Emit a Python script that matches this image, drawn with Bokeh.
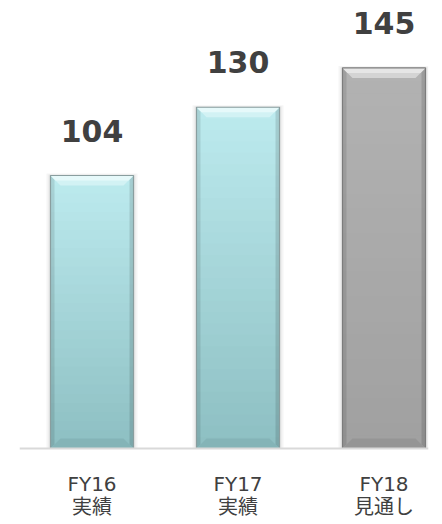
import numpy as np
from bokeh.plotting import figure
from bokeh.models import Range1d, Span
from bokeh.embed import file_html
from bokeh.resources import INLINE
from bokeh.core.properties import value as pv

# ---- data ----
categories = ["FY16", "FY17", "FY18"]
sub_labels = ["実績", "実績", "見通し"]
values = [104, 130, 145]
is_forecast = [False, False, True]

# ---- layout constants (pixels) ----
PX_X = 146.0          # pixels per category
PX_Y = 2.625          # pixels per unit
FRAME_W = 409
PLOT_H = 448          # height above baseline
BOTTOM_H = 76         # room for category labels
FIRST_CENTER = 72.5   # first category centre from frame left
BAR_PX = 83

x_start = -FIRST_CENTER / PX_X
x_end = x_start + FRAME_W / PX_X
y_start = -BOTTOM_H / PX_Y
y_end = PLOT_H / PX_Y
W = BAR_PX / PX_X
BX = 10 / PX_X
BY = 10 / PX_Y

xs = list(range(len(categories)))

p = figure(frame_width=FRAME_W, frame_height=PLOT_H + BOTTOM_H,
           x_range=Range1d(x_start, x_end), y_range=Range1d(y_start, y_end),
           output_backend="svg", toolbar_location=None,
           x_axis_location=None, y_axis_location=None,
           min_border_left=19, min_border_right=14, min_border_top=0, min_border_bottom=0,
           background_fill_color="white", border_fill_color="white",
           outline_line_color=None)
p.grid.visible = False


def rgb(c):
    return "#%02x%02x%02x" % tuple(int(round(v)) for v in c)


CY_TOP, CY_BOT = np.array([188, 234, 238]), np.array([140, 190, 193])
GR_TOP, GR_BOT = np.array([178, 178, 178]), np.array([160, 160, 160])
tops_c = [GR_TOP if f else CY_TOP for f in is_forecast]
bots_c = [GR_BOT if f else CY_BOT for f in is_forecast]

# soft shadow
p.vbar(x=xs, top=[v + 2 / PX_Y for v in values], bottom=0, width=W + 8 / PX_X,
       fill_color="#000000", fill_alpha=0.04, line_color=None)
p.vbar(x=xs, top=[v + 1 / PX_Y for v in values], bottom=0, width=W + 4 / PX_X,
       fill_color="#000000", fill_alpha=0.06, line_color=None)

# vertical gradient body
N = 30
for k in range(N, 0, -1):
    f = k / N
    cols = [rgb(b + (t - b) * f) for t, b in zip(tops_c, bots_c)]
    p.vbar(x=xs, top=[v * f for v in values], bottom=0, width=W,
           fill_color=cols, line_color=None)

# side facets
lx, ly, rx, ry = [], [], [], []
for x, v in zip(xs, values):
    l, r = x - W / 2, x + W / 2
    lx.append([l, l + BX * 0.4, l + BX * 0.4, l]); ly.append([0, BY * 0.4, v - BY * 0.4, v])
    rx.append([r, r - BX * 0.4, r - BX * 0.4, r]); ry.append([0, BY * 0.4, v - BY * 0.4, v])
p.patches(lx, ly, fill_color="#000000", fill_alpha=0.10, line_color=None)
p.patches(rx, ry, fill_color="#000000", fill_alpha=0.12, line_color=None)

# top facet
tx, ty, tx2, ty2 = [], [], [], []
for x, v in zip(xs, values):
    l, r = x - W / 2, x + W / 2
    tx.append([l, r, r - BX, l + BX]); ty.append([v, v, v - BY, v - BY])
    tx2.append([l, r, r - BX * 0.5, l + BX * 0.5]); ty2.append([v, v, v - BY * 0.5, v - BY * 0.5])
top_face = ["#d4d4d4" if f else "#d2f2f4" for f in is_forecast]
top_face2 = ["#e6e6e6" if f else "#e6f9fa" for f in is_forecast]
p.patches(tx, ty, fill_color=top_face, line_color=None)
p.patches(tx2, ty2, fill_color=top_face2, line_color=None)

# bottom facet
bx_, by_ = [], []
for x, v in zip(xs, values):
    l, r = x - W / 2, x + W / 2
    bx_.append([l, r, r - BX, l + BX]); by_.append([0, 0, BY, BY])
bot_face = ["#959595" if f else "#84b4b7" for f in is_forecast]
p.patches(bx_, by_, fill_color=bot_face, line_color=None)

# outline
edge = ["#7c7c7c" if f else "#8a9e9f" for f in is_forecast]
p.vbar(x=xs, top=values, bottom=0, width=W, fill_color=None,
       line_color=edge, line_width=1.2)

# baseline
p.add_layout(Span(location=0, dimension="width", line_color="#d9d9d9", line_width=2))

# value labels
p.text(x=xs, y=values, text=[str(v) for v in values], text_align="center",
       text_baseline="middle", y_offset=-45, text_font=pv("DejaVu Sans"),
       text_font_style="bold", text_font_size="30px", text_color="#404040")

# category labels
p.text(x=xs, y=[0] * len(xs), text=categories, text_align="center",
       text_baseline="middle", y_offset=35, text_font=pv("DejaVu Sans"),
       text_font_size="20px", text_color="#404040")
p.text(x=xs, y=[0] * len(xs), text=sub_labels, text_align="center",
       text_baseline="middle", y_offset=57, text_font=pv("Noto Sans CJK JP"),
       text_font_size="20px", text_color="#404040")

open("out.html", "w").write(file_html(p, INLINE))
